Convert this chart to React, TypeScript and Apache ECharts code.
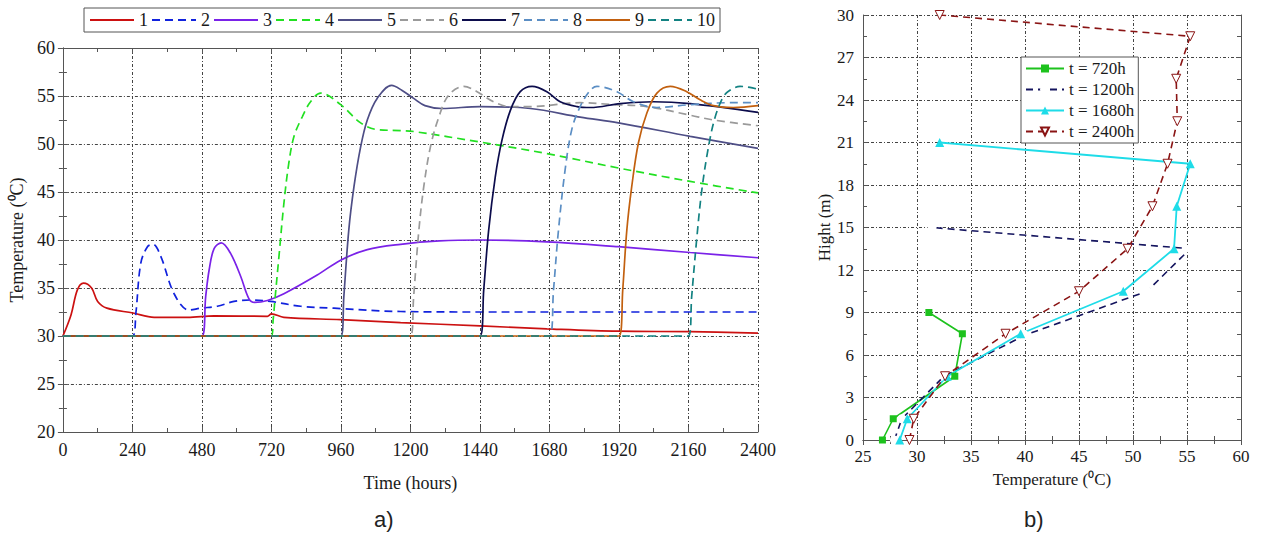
import React, { useEffect, useRef } from "react";
import * as echarts from "echarts";

// ---------- Panel a) : temperature vs time, layers 1..10 ----------
const layerNames = ["1", "2", "3", "4", "5", "6", "7", "8", "9", "10"];
const layerColors = ["#CC1111", "#1122DD", "#7A22E8", "#22E022", "#4E4E86", "#9A9A9A", "#0C0C4C", "#5B8EC4", "#C2600F", "#138282"];
const layerDashed = [false, true, false, true, false, true, false, true, false, true];

const s1 = [[0, 30], [28, 32.2], [50, 34.8], [71, 35.5], [99, 35.0], [120, 33.6], [152, 32.9], [242, 32.4], [315, 31.95], [430, 31.95], [522, 32.1], [706, 32.05], [720, 32.3], [763, 31.95], [959, 31.7], [1166, 31.4], [1441, 31.05], [1671, 30.75], [1918, 30.5], [2166, 30.45], [2400, 30.3]];
const s2 = [[0, 30], [240, 30], [252, 32.4], [269, 37.6], [292, 39.3], [311, 39.55], [338, 38.3], [384, 34.4], [435, 32.7], [476, 32.9], [533, 33.1], [591, 33.6], [648, 33.75], [717, 33.6], [821, 33.1], [936, 32.9], [1166, 32.55], [1441, 32.5], [1800, 32.5], [2400, 32.5]];
const s3 = [[0, 30], [480, 30], [493, 34.1], [505, 36.9], [522, 39.1], [547, 39.7], [579, 38.6], [614, 36.2], [642, 33.9], [662, 33.5], [706, 33.7], [763, 34.4], [878, 36.35], [959, 37.9], [1051, 39.0], [1166, 39.55], [1300, 39.9], [1441, 40.0], [1671, 39.8], [1918, 39.3], [2166, 38.7], [2400, 38.15]];
const s4 = [[0, 30], [720, 30], [726, 31.7], [734, 34.4], [746, 38.3], [763, 43.8], [780, 48.0], [798, 50.8], [826, 52.8], [855, 54.4], [890, 55.3], [959, 54.1], [1028, 52.2], [1085, 51.5], [1166, 51.4], [1211, 51.3], [1441, 50.2], [1671, 49.0], [1918, 47.5], [2166, 46.1], [2400, 44.9]];
const s5 = [[0, 30], [960, 30], [970, 34.1], [987, 41.0], [1005, 45.55], [1028, 49.7], [1051, 52.5], [1085, 54.75], [1135, 56.1], [1170, 55.6], [1211, 54.75], [1250, 54.0], [1309, 53.7], [1441, 53.9], [1614, 53.7], [1786, 52.8], [1918, 52.2], [2166, 50.8], [2400, 49.55]];
const s6 = [[0, 30], [1200, 30], [1211, 34.1], [1229, 41.0], [1246, 45.55], [1269, 49.7], [1298, 52.8], [1332, 55.1], [1384, 56.0], [1430, 55.45], [1487, 54.4], [1540, 53.9], [1614, 53.9], [1786, 54.3], [1901, 54.1], [2016, 53.9], [2166, 53.0], [2246, 52.5], [2400, 51.9]];
const s7 = [[0, 30], [1440, 30], [1453, 34.8], [1470, 41.0], [1493, 46.6], [1516, 50.4], [1545, 53.5], [1579, 55.45], [1620, 56.0], [1671, 55.45], [1717, 54.4], [1775, 53.9], [1821, 53.8], [1924, 54.2], [2039, 54.4], [2166, 54.2], [2400, 53.3]];
const s8 = [[0, 30], [1680, 30], [1694, 34.8], [1711, 41.0], [1734, 47.3], [1757, 51.5], [1786, 53.9], [1821, 55.6], [1844, 56.0], [1913, 55.45], [1970, 54.4], [2051, 53.8], [2166, 54.1], [2303, 54.3], [2400, 54.3]];
const s9 = [[0, 30], [1920, 30], [1933, 34.8], [1947, 41.0], [1964, 45.55], [1987, 50.1], [2016, 53.2], [2051, 55.3], [2097, 56.0], [2154, 55.45], [2200, 54.6], [2246, 54.0], [2315, 53.8], [2400, 54.0]];
const s10 = [[0, 30], [2160, 30], [2171, 34.1], [2189, 40.3], [2206, 45.2], [2229, 49.7], [2252, 52.8], [2280, 54.9], [2303, 55.6], [2338, 56.0], [2372, 55.9], [2400, 55.7]];
const layerData = [s1, s2, s3, s4, s5, s6, s7, s8, s9, s10];

// ---------- Panel b) : height profiles ----------
const profileNames = ["t = 720h", "t = 1200h", "t = 1680h", "t = 2400h"];
const h720 = [[26.8, 0], [27.8, 1.5], [33.5, 4.5], [34.2, 7.5], [31.1, 9]];
const h1200 = [[27.9, 0], [28.6, 1.5], [32.5, 4.5], [40.0, 7.4], [51.3, 10.5], [55.3, 13.5], [31.4, 15]];
const h1680 = [[28.4, 0], [29.1, 1.5], [32.8, 4.5], [39.6, 7.5], [49.1, 10.5], [53.8, 13.5], [54.05, 16.5], [55.3, 19.5], [32.1, 21]];
const h2400 = [[29.3, 0], [29.7, 1.5], [32.6, 4.5], [38.2, 7.5], [45.0, 10.5], [49.5, 13.5], [51.8, 16.5], [53.2, 19.5], [54.1, 22.5], [54.0, 25.5], [55.3, 28.5], [32.1, 30]];

const SERIF = "Liberation Serif";
const TXT = "#1a1a1a";
const AX = "#555";
const gridLine = { show: true, lineStyle: { color: "#444", type: [3, 2, 1, 2] as any, width: 1 } };
const plain = (v: number) => String(v);

function mainAxis(extra: any) {
  return {
    type: "value",
    axisLine: { show: true, lineStyle: { color: AX, width: 1 } },
    axisTick: { show: true, inside: true, length: 5, lineStyle: { color: AX } },
    minorTick: { show: true, splitNumber: 2, length: 4, lineStyle: { color: AX } },
    splitLine: gridLine,
    ...extra,
  };
}
function frameAxis(extra: any) {
  return {
    type: "value",
    axisLine: { show: true, lineStyle: { color: AX, width: 1 } },
    axisTick: { show: true, inside: true, length: 5, lineStyle: { color: AX } },
    minorTick: { show: true, splitNumber: 2, length: 4, lineStyle: { color: AX } },
    axisLabel: { show: false },
    splitLine: { show: false },
    ...extra,
  };
}

export default function App() {
  const ref = useRef<HTMLDivElement>(null);
  useEffect(() => {
    if (!ref.current) return;
    const chart = echarts.init(ref.current, null, { renderer: "svg" });

    const leftSeries = layerNames.map((n, i) => ({
      name: n,
      type: "line",
      xAxisIndex: 0,
      yAxisIndex: 0,
      data: layerData[i],
      showSymbol: false,
      symbol: "none",
      smooth: 0.35,
      lineStyle: { color: layerColors[i], width: 1.7, type: layerDashed[i] ? [8, 5] : "solid" },
      itemStyle: { color: layerColors[i] },
      z: 3 + i,
    }));

    const rightSeries = [
      {
        name: profileNames[0], data: h720, symbol: "rect", symbolSize: 7,
        lineStyle: { color: "#1DC21D", width: 1.6, type: "solid" },
        itemStyle: { color: "#1DC21D" },
      },
      {
        name: profileNames[1], data: h1200, symbol: "emptyCircle", symbolSize: 7,
        lineStyle: { color: "#14145E", width: 1.6, type: [7, 5] },
        itemStyle: { color: "#fff", borderColor: "#555", borderWidth: 1 },
      },
      {
        name: profileNames[2], data: h1680, symbol: "triangle", symbolSize: 9,
        lineStyle: { color: "#1EDCE8", width: 1.8, type: "solid" },
        itemStyle: { color: "#1EDCE8" },
      },
      {
        name: profileNames[3], data: h2400, symbol: "triangle", symbolRotate: 180, symbolSize: 9,
        lineStyle: { color: "#8A1414", width: 1.6, type: [7, 5] },
        itemStyle: { color: "#fff", borderColor: "#8A1414", borderWidth: 1 },
      },
    ].map((s) => ({ ...s, type: "line", xAxisIndex: 2, yAxisIndex: 2, showSymbol: true }));

    chart.setOption({
      animation: false,
      backgroundColor: "#fff",
      textStyle: { fontFamily: SERIF, color: TXT },
      grid: [
        { left: 62, right: 505, top: 48, bottom: 107, show: false },
        { left: 863, right: 22, top: 15, bottom: 99, show: false },
      ],
      legend: [
        {
          data: layerNames,
          orient: "horizontal",
          left: 84,
          top: 8,
          itemWidth: 44,
          itemHeight: 14,
          itemGap: 3,
          padding: [3, 5],
          borderColor: "#555",
          borderWidth: 1,
          backgroundColor: "#fff",
          itemStyle: { opacity: 0 },
          textStyle: { fontFamily: SERIF, fontSize: 18, color: TXT },
        },
        {
          data: profileNames,
          orient: "vertical",
          left: 1021,
          top: 57,
          itemWidth: 38,
          itemHeight: 10,
          itemGap: 4,
          padding: [3, 4],
          borderColor: "#555",
          borderWidth: 1,
          backgroundColor: "#fff",
          textStyle: { fontFamily: SERIF, fontSize: 17, color: TXT },
        },
      ],
      xAxis: [
        mainAxis({
          gridIndex: 0, position: "bottom", min: 0, max: 2400, interval: 240,
          axisLabel: { fontFamily: SERIF, fontSize: 18, color: TXT, margin: 9, formatter: plain },
          name: "Time (hours)", nameLocation: "middle", nameGap: 42,
          nameTextStyle: { fontFamily: SERIF, fontSize: 18, color: TXT },
        }),
        frameAxis({ gridIndex: 0, position: "top", min: 0, max: 2400, interval: 240 }),
        mainAxis({
          gridIndex: 1, position: "bottom", min: 25, max: 60, interval: 5,
          axisLabel: { fontFamily: SERIF, fontSize: 17, color: TXT, margin: 8, formatter: plain },
          name: "Temperature (\u2070C)", nameLocation: "middle", nameGap: 31,
          nameTextStyle: { fontFamily: SERIF, fontSize: 17, color: TXT },
        }),
        frameAxis({ gridIndex: 1, position: "top", min: 25, max: 60, interval: 5 }),
      ],
      yAxis: [
        mainAxis({
          gridIndex: 0, position: "left", min: 20, max: 60, interval: 5,
          axisLabel: { fontFamily: SERIF, fontSize: 18, color: TXT, margin: 8, formatter: plain },
          name: "Temperature (\u2070C)", nameLocation: "middle", nameGap: 36,
          nameTextStyle: { fontFamily: SERIF, fontSize: 18, color: TXT },
        }),
        frameAxis({ gridIndex: 0, position: "right", min: 20, max: 60, interval: 5 }),
        mainAxis({
          gridIndex: 1, position: "left", min: 0, max: 30, interval: 3,
          axisLabel: { fontFamily: SERIF, fontSize: 17, color: TXT, margin: 9, formatter: plain },
          name: "Hight (m)", nameLocation: "middle", nameGap: 30,
          nameTextStyle: { fontFamily: SERIF, fontSize: 17, color: TXT },
        }),
        frameAxis({ gridIndex: 1, position: "right", min: 0, max: 30, interval: 3 }),
      ],
      graphic: [
        { type: "text", left: 374, top: 508, style: { text: "a)", font: "22px 'Liberation Sans'", fill: "#222" } },
        { type: "text", left: 1024, top: 508, style: { text: "b)", font: "22px 'Liberation Sans'", fill: "#222" } },
      ],
      series: [...leftSeries, ...rightSeries],
    });
    return () => chart.dispose();
  }, []);
  return (
    <div
      ref={ref}
      style={{ position: "absolute", left: 0, top: 0, width: 1263, height: 539, background: "#fff" }}
    />
  );
}
